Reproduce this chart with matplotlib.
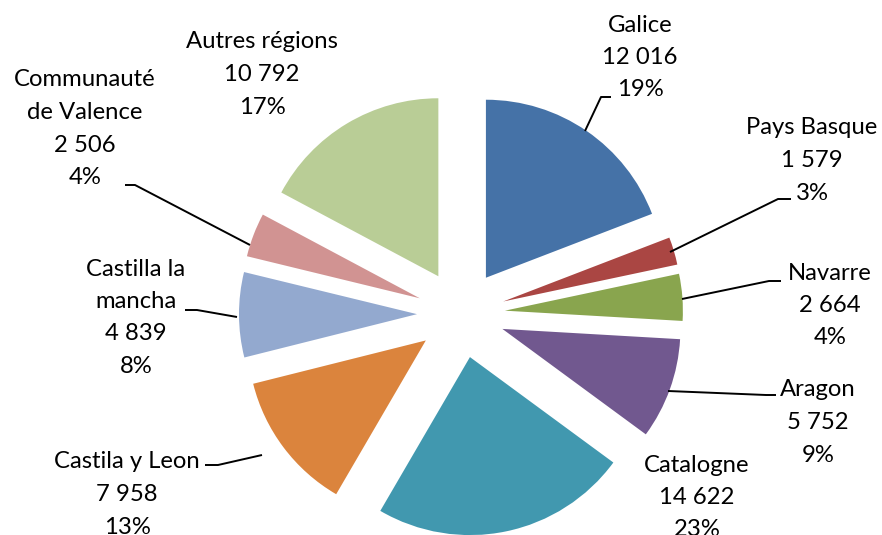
import matplotlib
matplotlib.use("Agg")
import matplotlib.pyplot as plt

# ---- data ----
regions = ["Galice", "Pays Basque", "Navarre", "Aragon", "Catalogne",
           "Castila y Leon", "Castilla la\nmancha", "Communauté\nde Valence",
           "Autres régions"]
values = [12016, 1579, 2664, 5752, 14622, 7958, 4839, 2506, 10792]
colors = ["#4572A7", "#AA4643", "#89A54E", "#71588F", "#4198AF",
          "#DB843D", "#93A9CF", "#D19392", "#B9CD96"]

W, H = 882, 535
plt.rcParams['font.family'] = ['Lato', 'DejaVu Sans']

fig = plt.figure(figsize=(W / 100, H / 100), dpi=100)
ax = fig.add_axes([0, 0, 1, 1])

def Y(py):
    return H - py

cx, cy, R, EXP = 461, Y(314), 178, 44
ax.pie(values, colors=colors, startangle=90, counterclock=False,
       center=(cx, cy), radius=R, explode=[EXP] * len(values),
       wedgeprops=dict(linewidth=0), frame=True)
ax.set_xlim(0, W)
ax.set_ylim(0, H)
ax.set_aspect("auto")
ax.axis("off")

total = sum(values)

# label layout: (center x, first-line y) in pixels
label_pos = [(640, 25), (812, 128), (830, 273), (818, 390), (697, 465),
             (127, 462), (136, 269), (85, 80), (262, 42)]
LS = 32.5
for name, v, (lx, ly) in zip(regions, values, label_pos):
    lines = name.split("\n") + [f"{v:,}".replace(",", " "),
                                f"{round(v / total * 100)}%"]
    for i, t in enumerate(lines):
        ax.text(lx, Y(ly + i * LS), t, ha="center", va="center",
                fontsize=17.2, color="black")

# leader lines (pixel coords)
leaders = [
    [(611, 97), (601, 97), (585, 131)],
    [(791, 199), (778, 199), (670, 252)],
    [(781, 281), (769, 281), (682, 299)],
    [(776, 395), (766, 395), (668, 391)],
    [(185, 310), (197, 310), (237, 317)],
    [(205, 465), (218, 465), (262, 455)],
    [(125, 185), (135, 185), (250, 245)],
]
for pts in leaders:
    xs = [p[0] for p in pts]
    ys = [Y(p[1]) for p in pts]
    ax.plot(xs, ys, color="black", lw=1.4, solid_capstyle="butt")

fig.savefig("out.png", dpi=100)
